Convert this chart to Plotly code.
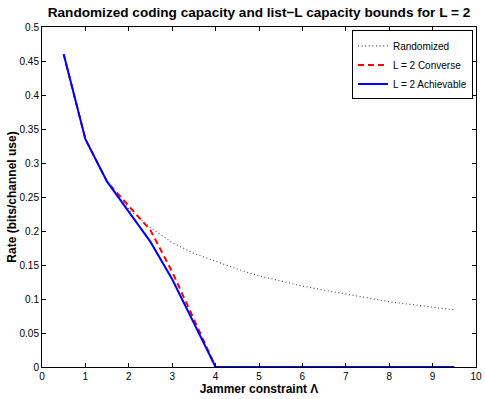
import plotly.graph_objects as go

# Jammer constraint values
lam = [0.5, 1, 1.5, 2, 2.5, 3, 3.5, 4, 4.5, 5, 5.5, 6, 6.5, 7, 7.5, 8, 8.5, 9, 9.5]

randomized = [0.46, 0.335, 0.2725, 0.232, 0.205, 0.183, 0.167, 0.155, 0.144, 0.134,
              0.126, 0.119, 0.113, 0.107, 0.1015, 0.096, 0.092, 0.088, 0.084]
converse = [0.46, 0.335, 0.2725, 0.236, 0.201, 0.14, 0.07, 0, 0, 0,
            0, 0, 0, 0, 0, 0, 0, 0, 0]
achievable = [0.46, 0.335, 0.2725, 0.229, 0.184, 0.129, 0.065, 0, 0, 0,
              0, 0, 0, 0, 0, 0, 0, 0, 0]

y_ticks = [0, 0.05, 0.1, 0.15, 0.2, 0.25, 0.3, 0.35, 0.4, 0.45, 0.5]
y_labels = ["0", "0.05", "0.1", "0.15", "0.2", "0.25", "0.3", "0.35", "0.4", "0.45", "0.5"]
x_ticks = list(range(0, 11))

fig = go.Figure()
fig.add_trace(go.Scatter(x=lam, y=randomized, mode="lines", name="Randomized",
                         line=dict(color="#444444", width=1.1, dash="1px,2.6px")))
fig.add_trace(go.Scatter(x=lam, y=converse, mode="lines", name="L = 2 Converse",
                         line=dict(color="red", width=2, dash="6px,4px")))
fig.add_trace(go.Scatter(x=lam, y=achievable, mode="lines", name="L = 2 Achievable",
                         line=dict(color="blue", width=2)))

axis_style = dict(showline=True, linecolor="black", linewidth=1, mirror="allticks",
                  ticks="inside", ticklen=4, tickcolor="black", showgrid=False,
                  zeroline=False, automargin=False,
                  tickfont=dict(size=10, color="black"))

fig.update_layout(
    width=485, height=399,
    margin=dict(l=42, r=9, t=27, b=32, autoexpand=False),
    paper_bgcolor="white", plot_bgcolor="white",
    font=dict(family="Liberation Sans, Arial, sans-serif", color="black"),
    title=dict(text="<b>Randomized coding capacity and list\u2212L capacity bounds for L = 2</b>",
               x=259 / 485, xanchor="center", y=0.97, yanchor="middle",
               font=dict(size=13.6), automargin=False),
    xaxis=dict(range=[0, 10], tickvals=x_ticks,
               title=dict(text="<b>Jammer constraint \u039b</b>", font=dict(size=12), standoff=2),
               **axis_style),
    yaxis=dict(range=[0, 0.5], tickvals=y_ticks, ticktext=y_labels,
               title=dict(text="<b>Rate (bits/channel use)</b>", font=dict(size=12), standoff=0),
               **axis_style),
    legend=dict(x=0.993, xanchor="right", y=0.99, yanchor="top",
                bordercolor="black", borderwidth=1, bgcolor="white",
                font=dict(size=10), tracegroupgap=0, itemwidth=30),
    showlegend=True,
)

# the page's default body margin would shift the figure by 8px
fig.write_html("out.html", config={"displayModeBar": False},
               post_script="document.body.style.margin='0';")
